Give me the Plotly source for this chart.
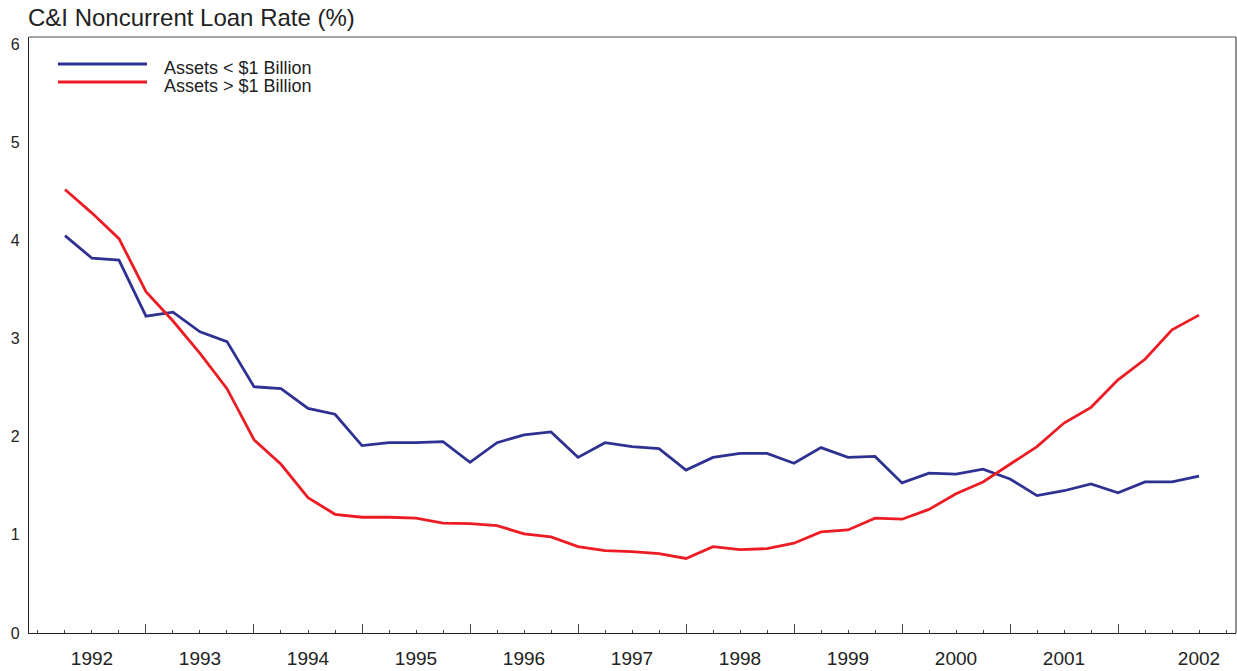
import plotly.graph_objects as go

quarters = list(range(43))  # 1992Q1 .. 2002Q3
small_banks = [4.05, 3.82, 3.80, 3.23, 3.27, 3.07, 2.97, 2.51, 2.49, 2.29, 2.23,
               1.91, 1.94, 1.94, 1.95, 1.74, 1.94, 2.02, 2.05, 1.79, 1.94, 1.90,
               1.88, 1.66, 1.79, 1.83, 1.83, 1.73, 1.89, 1.79, 1.80, 1.53, 1.63,
               1.62, 1.67, 1.57, 1.40, 1.45, 1.52, 1.43, 1.54, 1.54, 1.60]
large_banks = [4.52, 4.28, 4.02, 3.48, 3.18, 2.85, 2.49, 1.97, 1.72, 1.38, 1.21,
               1.18, 1.18, 1.17, 1.12, 1.115, 1.095, 1.01, 0.98, 0.88, 0.84, 0.83,
               0.81, 0.76, 0.88, 0.85, 0.86, 0.915, 1.03, 1.05, 1.17, 1.16, 1.26,
               1.42, 1.54, 1.72, 1.90, 2.14, 2.30, 2.58, 2.79, 3.09, 3.24]
year_labels = ["1992", "1993", "1994", "1995", "1996", "1997", "1998", "1999",
               "2000", "2001", "2002"]
year_label_pos = [1, 5, 9, 13, 17, 21, 25, 29, 33, 37, 42]
year_boundaries = [3, 7, 11, 15, 19, 23, 27, 31, 35, 39]
series_names = ["Assets < $1 Billion", "Assets > $1 Billion"]
series_colors = ["#2E3192", "#ED1C24"]

font = "Liberation Sans, Arial, sans-serif"
W, H = 1237, 671
fig = go.Figure()
for name, vals, col in zip(series_names, [small_banks, large_banks], series_colors):
    fig.add_trace(go.Scatter(x=quarters, y=vals, mode="lines", name=name,
                             showlegend=False, line=dict(color=col, width=2.8)))
# invisible trace to carry year labels on an overlaying axis
fig.add_trace(go.Scatter(x=[quarters[0]], y=[None], xaxis="x2", showlegend=False,
                         hoverinfo="skip"))

# manual legend (long line samples as in the original)
shapes = []
annotations = []
leg_y_line = [0.9547, 0.9245]
leg_y_text = [0.948, 0.9178]
for name, col, yl, yt in zip(series_names, series_colors, leg_y_line, leg_y_text):
    shapes.append(dict(type="line", xref="paper", yref="paper", x0=0.024, x1=0.0978,
                       y0=yl, y1=yl, line=dict(color=col, width=2.8)))
    annotations.append(dict(xref="paper", yref="paper", x=0.1102, y=yt, text=name,
                            showarrow=False, xanchor="left", yanchor="middle",
                            font=dict(size=18, color="#222", family=font)))
shapes += [
    dict(type="line", xref="paper", yref="paper", x0=0, x1=1, y0=1, y1=1,
         line=dict(color="#8a8a8a", width=1.5)),
    dict(type="line", xref="paper", yref="paper", x0=1, x1=1, y0=0, y1=1,
         line=dict(color="#444", width=1.2)),
]

xrange = [-1.333, 43.37]
fig.update_layout(
    width=W, height=H,
    margin=dict(l=29, r=1, t=37, b=38, autoexpand=False),
    paper_bgcolor="white", plot_bgcolor="white",
    font=dict(family=font, color="#222", size=16),
    title=dict(text="C&I Noncurrent Loan Rate (%)", x=28 / W, xanchor="left",
               xref="container", y=1 - 17.5 / H, yanchor="middle",
               font=dict(size=24, color="#222", family=font)),
    xaxis=dict(range=xrange, tickmode="array", tickvals=year_boundaries,
               showticklabels=False, ticks="inside", ticklen=9, tickcolor="#444",
               tickwidth=1, showgrid=False, zeroline=False, showline=True,
               linecolor="#222", linewidth=1.2, mirror=False, automargin=False,
               minor=dict(tickmode="linear", tick0=0, dtick=1, ticks="inside",
                          ticklen=3, tickcolor="#444", showgrid=False)),
    xaxis2=dict(range=xrange, overlaying="x", anchor="y", side="bottom",
                tickmode="array", tickvals=year_label_pos, ticktext=year_labels,
                ticks="", showgrid=False, zeroline=False, showline=False,
                ticklabelstandoff=12, automargin=False,
                tickfont=dict(size=19, color="#222", family=font)),
    yaxis=dict(range=[0, 6.075], tickmode="array", tickvals=[0, 1, 2, 3, 4, 5, 6],
               ticks="", showgrid=False, zeroline=False, showline=True,
               linecolor="#222", linewidth=1.2, mirror=False, automargin=False,
               ticklabelstandoff=5,
               tickfont=dict(size=16, color="#222", family=font)),
    showlegend=False,
    shapes=shapes,
    annotations=annotations,
)
fig.write_html(
    "out.html",
    config={"displayModeBar": False},
    post_script="document.body.style.margin='0';document.body.style.overflow='hidden';",
)
